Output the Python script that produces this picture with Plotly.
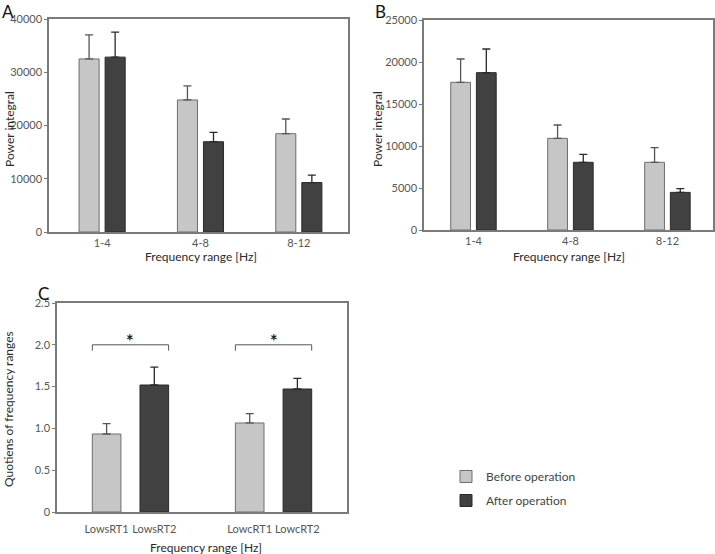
import plotly.graph_objects as go

# ---------------- data ----------------
freq_ranges = ["1-4", "4-8", "8-12"]

a_before = [32500, 24800, 18460]
a_before_err = [4500, 2650, 2760]
a_after = [32840, 16950, 9290]
a_after_err = [4700, 1760, 1390]

b_before = [17580, 10910, 8060]
b_before_err = [2780, 1590, 1740]
b_after = [18730, 8060, 4480]
b_after_err = [2820, 950, 440]

c_categories = ["LowsRT1", "LowsRT2", " ", "LowcRT1", "LowcRT2"]
c_before_labels = ["LowsRT1", "LowcRT1"]
c_before = [0.933, 1.065]
c_before_err = [0.124, 0.111]
c_after_labels = ["LowsRT2", "LowcRT2"]
c_after = [1.519, 1.471]
c_after_err = [0.215, 0.128]
c_sig_pairs = [("LowsRT1", "LowsRT2"), ("LowcRT1", "LowcRT2")]
c_tickvals = [0, 0.5, 1.0, 1.5, 2.0, 2.5]
c_ticktext = ["0", "0.5", "1.0", "1.5", "2.0", "2.5"]

x_title = "Frequency range [Hz]"
y_title_ab = "Power integral"
y_title_c = "Quotiens of frequency ranges"

# ---------------- styles ----------------
W, H = 715, 554
FONT = "Lato"
BEFORE_FILL = "#c6c6c6"
BEFORE_LINE = "#6e6e6e"
AFTER_FILL = "#414141"
AFTER_LINE = "#2a2a2a"
FRAME = "#7a7a7a"
TICKCOL = "#555555"
TITLECOL = "#2a2a2a"


def px_x(p):
    return p / W


def px_y(p):
    return 1 - p / H


def err(arr, col):
    return dict(type="data", array=arr, arrayminus=[0] * len(arr), symmetric=False,
                color=col, thickness=1.3, width=4)


fig = go.Figure()

# Panel A
fig.add_trace(go.Bar(x=freq_ranges, y=a_before, name="Before operation",
                     marker=dict(color=BEFORE_FILL, line=dict(color=BEFORE_LINE, width=1)),
                     error_y=err(a_before_err, "#555555"), xaxis="x", yaxis="y",
                     offsetgroup="before", legendgroup="before"))
fig.add_trace(go.Bar(x=freq_ranges, y=a_after, name="After operation",
                     marker=dict(color=AFTER_FILL, line=dict(color=AFTER_LINE, width=1)),
                     error_y=err(a_after_err, "#2a2a2a"), xaxis="x", yaxis="y",
                     offsetgroup="after", legendgroup="after"))
# Panel B
fig.add_trace(go.Bar(x=freq_ranges, y=b_before, name="Before operation", showlegend=False,
                     marker=dict(color=BEFORE_FILL, line=dict(color=BEFORE_LINE, width=1)),
                     error_y=err(b_before_err, "#555555"), xaxis="x2", yaxis="y2",
                     offsetgroup="before", legendgroup="before"))
fig.add_trace(go.Bar(x=freq_ranges, y=b_after, name="After operation", showlegend=False,
                     marker=dict(color=AFTER_FILL, line=dict(color=AFTER_LINE, width=1)),
                     error_y=err(b_after_err, "#2a2a2a"), xaxis="x2", yaxis="y2",
                     offsetgroup="after", legendgroup="after"))
# Panel C
fig.add_trace(go.Bar(x=c_before_labels, y=c_before, name="Before operation", showlegend=False,
                     marker=dict(color=BEFORE_FILL, line=dict(color=BEFORE_LINE, width=1)),
                     error_y=err(c_before_err, "#555555"), xaxis="x3", yaxis="y3",
                     offsetgroup="c", width=0.6, legendgroup="before"))
fig.add_trace(go.Bar(x=c_after_labels, y=c_after, name="After operation", showlegend=False,
                     marker=dict(color=AFTER_FILL, line=dict(color=AFTER_LINE, width=1)),
                     error_y=err(c_after_err, "#2a2a2a"), xaxis="x3", yaxis="y3",
                     offsetgroup="c", width=0.6, legendgroup="after"))

# significance brackets for C
half = 0.3
for a, b in c_sig_pairs:
    i0 = c_categories.index(a) - half
    i1 = c_categories.index(b) + half
    fig.add_shape(type="path", xref="x3", yref="y3",
                  path=f"M {i0},1.93 L {i0},2.0 L {i1},2.0 L {i1},1.93",
                  line=dict(color="#555555", width=1))
    fig.add_annotation(x=(i0 + i1) / 2, y=2.045, xref="x3", yref="y3", text="<b>*</b>",
                       showarrow=False, yanchor="middle",
                       font=dict(family=FONT, size=18, color="#222222"))

tickfont = dict(family=FONT, size=11, color=TICKCOL)

xcommon = dict(type="category", showline=True, mirror=True, linecolor=FRAME, linewidth=1.5,
               ticks="", showgrid=False, zeroline=False, tickfont=tickfont,
               automargin=False, fixedrange=True)
ycommon = dict(showline=True, mirror=True, linecolor=FRAME, linewidth=1.5,
               ticks="outside", ticklen=3, tickcolor=FRAME, showgrid=False, zeroline=False,
               tickfont=tickfont, automargin=False, fixedrange=True)

fig.update_layout(
    width=W, height=H,
    margin=dict(l=0, r=0, t=0, b=0, autoexpand=False),
    paper_bgcolor="white", plot_bgcolor="white",
    font=dict(family=FONT, color=TITLECOL),
    barmode="group", bargap=0.47, bargroupgap=0.23,
    xaxis=dict(xcommon, domain=[px_x(49), px_x(348)], anchor="y", range=[-0.54, 2.50]),
    yaxis=dict(ycommon, domain=[px_y(232), px_y(19)], anchor="x", range=[0, 40000],
               dtick=10000, tickformat="d"),
    xaxis2=dict(xcommon, domain=[px_x(424), px_x(713)], anchor="y2", range=[-0.51, 2.47]),
    yaxis2=dict(ycommon, domain=[px_y(230), px_y(20)], anchor="x2", range=[0, 25000],
                dtick=5000, tickformat="d"),
    xaxis3=dict(xcommon, domain=[px_x(57), px_x(347)], anchor="y3", range=[-1.04, 5.04],
                categoryorder="array", categoryarray=c_categories, ticklabelstandoff=6),
    yaxis3=dict(ycommon, domain=[px_y(512), px_y(303)], anchor="x3", range=[0, 2.5],
                tickvals=c_tickvals, ticktext=c_ticktext),
    legend=dict(x=px_x(446), y=px_y(462), xanchor="left", yanchor="top",
                font=dict(family=FONT, size=12, color="#444444"),
                bgcolor="rgba(0,0,0,0)", traceorder="grouped", tracegroupgap=5),
    showlegend=True,
)

titlefont = dict(family=FONT, size=12, color=TITLECOL)
# axis titles (placed as annotations so the panel geometry is fixed)
for text, xp, yp, ang in [
    (x_title, 201, 257, 0), (y_title_ab, 9, 129, -90),
    (x_title, 569, 257, 0), (y_title_ab, 377, 129, -90),
    (x_title, 206, 547, 0), (y_title_c, 8, 409, -90),
]:
    fig.add_annotation(text=text, x=px_x(xp), y=px_y(yp), xref="paper", yref="paper",
                       xanchor="center", yanchor="middle", showarrow=False, textangle=ang,
                       font=titlefont)

# panel letters
for letter, xp, yp in [("A", 1, 0), ("B", 374, 0), ("C", 37, 282)]:
    fig.add_annotation(text=letter, x=px_x(xp), y=px_y(yp), xref="paper", yref="paper",
                       xanchor="left", yanchor="top", showarrow=False, borderpad=0,
                       font=dict(family=FONT, size=17, color="#111111"))

fig.write_html("out.html",
               config={"displayModeBar": False},
               post_script="document.body.style.margin='0';document.body.style.padding='0';"
                           "document.body.style.overflow='hidden';")
